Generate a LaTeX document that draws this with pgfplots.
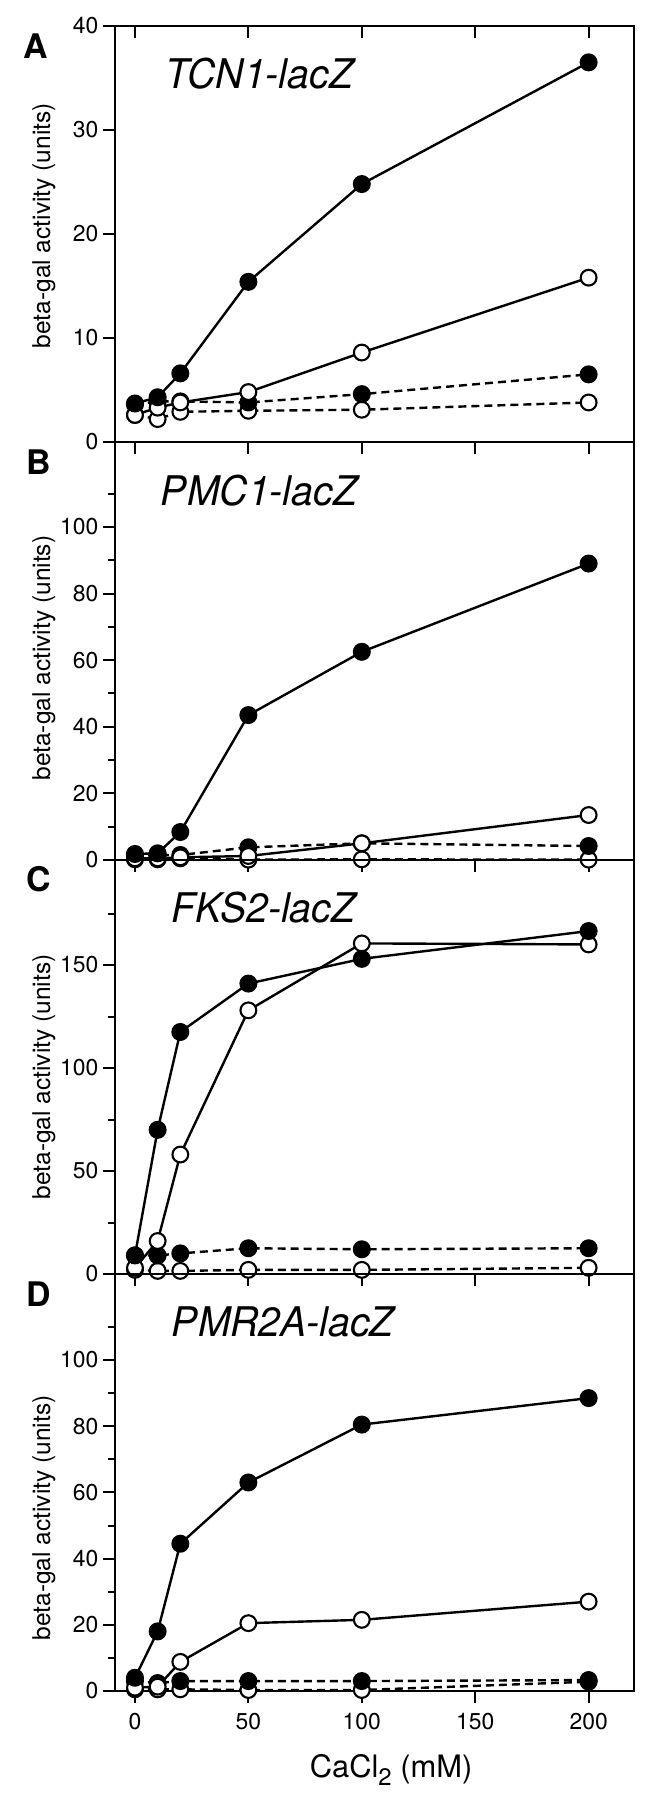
\documentclass[border=0pt]{standalone}
\usepackage{fontspec}
\setmainfont{TeX Gyre Heros}
\usepackage{graphicx}
\usepackage{pgfplots}
\pgfplotsset{compat=1.18}
\pgfplotsset{
  panel/.style={
    scale only axis, width=259.5bp, anchor=south west,
    xmin=-8.8, xmax=220, ymin=0, clip=false,
    axis line style={line width=1.15bp},
    every tick/.style={line width=1bp, black},
    xtick={0,50,100,150,200}, xtick pos=left, xtick align=outside, xticklabels={},
    ytick pos=left, ytick align=outside,
    major tick length=5.8bp, minor tick length=3.6bp,
    /pgf/number format/assume math mode=true,
    tick label style={font=\fontsize{11.5}{13}\selectfont},
    yticklabel style={inner sep=2.3bp},
  },
  fs/.style={black, line width=1.2bp, mark=*, mark size=4.1bp, mark options={solid, fill=black, line width=0.8bp}},
  os/.style={black, line width=1.2bp, mark=*, mark size=3.95bp, mark options={solid, fill=white, line width=1.05bp}},
  fd/.style={fs, dash pattern=on 4bp off 2.5bp},
  od/.style={os, dash pattern=on 4bp off 2.5bp},
}
\newcommand{\ttl}[1]{\scalebox{0.96}[1]{\itshape #1}}
\newcommand{\ylab}{beta-gal activity (units)}
\begin{document}
\begin{tikzpicture}
\path[use as bounding box] (0,0) rectangle (327bp,900bp);
% Panel A
\begin{axis}[panel, height=208bp, at={(57.5bp,679bp)}, ymax=40, ytick={0,10,20,30,40}]
\addplot[od] coordinates {(0,2.6) (10,2.2) (20,2.9) (50,3.0) (100,3.1) (200,3.8)};
\addplot[fd] coordinates {(0,3.6) (10,3.9) (20,3.9) (50,3.8) (100,4.6) (200,6.5)};
\addplot[os] coordinates {(0,2.6) (10,3.3) (20,3.8) (50,4.8) (100,8.6) (200,15.8)};
\addplot[fs] coordinates {(0,3.7) (10,4.3) (20,6.6) (50,15.4) (100,24.8) (200,36.5)};
\node[anchor=base west, font=\fontsize{20.5}{21}\selectfont] at (rel axis cs:0.084,0.849) {\ttl{TCN1-lacZ}};
\node[anchor=base west, font=\fontsize{17}{17}\selectfont\bfseries] at (rel axis cs:-0.19,0.923) {A};
\node[rotate=90, font=\fontsize{12.3}{14}\selectfont] at (rel axis cs:-0.137,0.52) {\ylab};
\end{axis}
\begin{axis}[scale only axis, width=259.5bp, height=208bp, at={(57.5bp,679bp)}, anchor=south west,
  xmin=-8.8, xmax=220, ymin=0, ymax=40, axis x line*=top, axis y line=none,
  xtick={0,50,100,150,200}, xticklabels={}, xtick align=inside, major tick length=5.8bp,
  axis line style={line width=1.15bp}, every tick/.style={line width=1bp, black}]
\end{axis}
% Panel B
\begin{axis}[panel, height=209bp, at={(57.5bp,470bp)}, ymax=125.5, ytick={0,20,...,100}, minor ytick={10,30,...,110}]
\addplot[od] coordinates {(0,0.2) (10,0.2) (20,0.5) (50,0.1) (100,0.2) (200,0.1)};
\addplot[fd] coordinates {(0,1.2) (10,1.5) (20,1.5) (50,3.8) (100,5.0) (200,4.2)};
\addplot[os] coordinates {(0,0.5) (10,0.5) (20,0.8) (50,1.2) (100,5.0) (200,13.5)};
\addplot[fs] coordinates {(0,1.8) (10,2.0) (20,8.4) (50,43.5) (100,62.5) (200,89)};
\node[anchor=base west, font=\fontsize{20.5}{21}\selectfont] at (rel axis cs:0.075,0.849) {\ttl{PMC1-lacZ}};
\node[anchor=base west, font=\fontsize{17}{17}\selectfont\bfseries] at (rel axis cs:-0.185,0.923) {B};
\node[rotate=90, font=\fontsize{12.3}{14}\selectfont] at (rel axis cs:-0.137,0.483) {\ylab};
\end{axis}
% Panel C
\begin{axis}[panel, height=207bp, at={(57.5bp,263bp)}, ymax=201, ytick={0,50,100,150}, minor ytick={25,75,125,175}]
\addplot[od] coordinates {(0,2) (10,1.5) (20,1.5) (50,2) (100,2) (200,3)};
\addplot[fd] coordinates {(0,9) (10,9) (20,10) (50,12.5) (100,12) (200,12.5)};
\addplot[os] coordinates {(0,3) (10,16) (20,58) (50,128) (100,160.5) (200,160)};
\addplot[fs] coordinates {(0,9) (10,70) (20,117.5) (50,141) (100,153) (200,166.5)};
\node[anchor=base west, font=\fontsize{20.5}{21}\selectfont] at (rel axis cs:0.096,0.849) {\ttl{FKS2-lacZ}};
\node[anchor=base west, font=\fontsize{17}{17}\selectfont\bfseries] at (rel axis cs:-0.185,0.923) {C};
\node[rotate=90, font=\fontsize{12.3}{14}\selectfont] at (rel axis cs:-0.137,0.476) {\ylab};
\end{axis}
% Panel D
\begin{axis}[panel, height=208.5bp, at={(57.5bp,54.5bp)}, ymax=126, ytick={0,20,...,100}, minor ytick={10,30,...,110},
  xticklabels={0,50,100,150,200}, xticklabel style={inner sep=0pt, yshift=-5bp}]
\addplot[od] coordinates {(0,0.5) (10,0.5) (20,0.5) (50,0.3) (100,0.3) (200,2.8)};
\addplot[fd] coordinates {(0,3) (10,2.4) (20,3) (50,3) (100,3) (200,3.3)};
\addplot[os] coordinates {(0,1) (10,1.3) (20,8.8) (50,20.5) (100,21.5) (200,27)};
\addplot[fs] coordinates {(0,4) (10,18) (20,44.5) (50,63) (100,80.5) (200,88.5)};
\node[anchor=base west, font=\fontsize{20.5}{21}\selectfont] at (rel axis cs:0.096,0.849) {\ttl{PMR2A-lacZ}};
\node[anchor=base west, font=\fontsize{17}{17}\selectfont\bfseries] at (rel axis cs:-0.185,0.923) {D};
\node[rotate=90, font=\fontsize{12.3}{14}\selectfont] at (rel axis cs:-0.137,0.415) {\ylab};
\node[anchor=base, yshift=-43bp, font=\fontsize{15.5}{17}\selectfont] at (rel axis cs:0.532,0) {CaCl{\fontsize{12}{12}\selectfont\raisebox{-4bp}{2}} (mM)};
\end{axis}
\end{tikzpicture}
\end{document}
